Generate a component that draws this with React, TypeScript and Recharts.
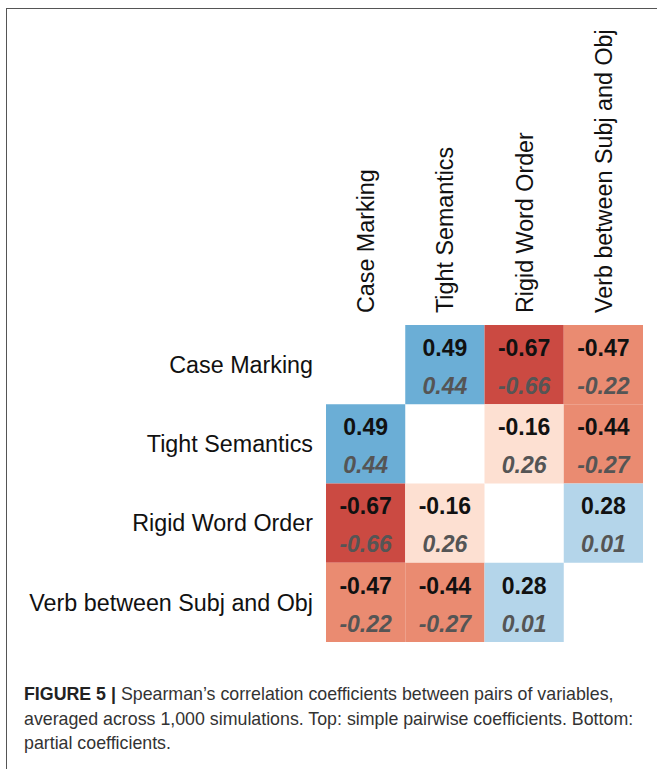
import { ScatterChart, Scatter, XAxis, YAxis } from 'recharts'

const variables = ['Case Marking', 'Tight Semantics', 'Rigid Word Order', 'Verb between Subj and Obj']

// upper line in each cell: simple pairwise coefficients
const simpleCoefs: (number | null)[][] = [
  [null, 0.49, -0.67, -0.47],
  [0.49, null, -0.16, -0.44],
  [-0.67, -0.16, null, 0.28],
  [-0.47, -0.44, 0.28, null],
]

// lower line in each cell: partial coefficients
const partialCoefs: (number | null)[][] = [
  [null, 0.44, -0.66, -0.22],
  [0.44, null, 0.26, -0.27],
  [-0.66, 0.26, null, 0.01],
  [-0.22, -0.27, 0.01, null],
]

const indexTicks = [0, 1, 2, 3]

const captionLines = [
  'Spearman’s correlation coefficients between pairs of variables,',
  'averaged across 1,000 simulations. Top: simple pairwise coefficients. Bottom:',
  'partial coefficients.',
]

const W = 657
const H = 769
const margin = { top: 25, right: 14, bottom: 127, left: 6 }
const Y_AXIS_W = 320
const X_AXIS_H = 300
const CELL = (W - margin.left - margin.right - Y_AXIS_W) / 4

const FONT = '"Liberation Sans", Arial, sans-serif'

const cellColor = (v: number) => {
  if (v <= -0.6) return '#cb4a42'
  if (v <= -0.3) return '#ea8b71'
  if (v < 0) return '#fde0d2'
  if (v < 0.4) return '#b4d5ea'
  return '#6baed6'
}

const cells = simpleCoefs.flatMap((row, r) =>
  row
    .map((v, c) => ({ x: c, y: r, simple: v, partial: partialCoefs[r][c] }))
    .filter(d => d.simple !== null)
)

const CellShape = (props: any) => {
  const { cx, cy, payload } = props
  return (
    <g>
      <rect
        x={cx - CELL / 2}
        y={cy - CELL / 2}
        width={CELL}
        height={CELL}
        fill={cellColor(payload.simple)}
      />
      <text
        x={cx}
        y={cy - 17}
        dy='0.36em'
        textAnchor='middle'
        fontFamily={FONT}
        fontWeight='bold'
        fontSize={23}
        fill='#111'>
        {payload.simple.toFixed(2)}
      </text>
      <text
        x={cx}
        y={cy + 21}
        dy='0.36em'
        textAnchor='middle'
        fontFamily={FONT}
        fontWeight='bold'
        fontStyle='italic'
        fontSize={23}
        fill='#555'>
        {payload.partial.toFixed(2)}
      </text>
    </g>
  )
}

const ColumnTick = (props: any) => {
  const { x, y, payload } = props
  return (
    <text
      x={x}
      y={y}
      dy='0.36em'
      transform={`rotate(-90, ${x}, ${y})`}
      textAnchor='start'
      fontFamily={FONT}
      fontSize={23.3}
      fill='#111'>
      {variables[payload.value]}
    </text>
  )
}

export default function App() {
  return (
    <div style={{ position: 'absolute', top: 0, left: 0, width: W, height: H, background: '#fff' }}>
      <div
        style={{
          position: 'absolute',
          left: 6,
          top: 8,
          right: 0,
          bottom: 0,
          borderTop: '1.5px solid #555',
          borderLeft: '1.5px solid #555',
        }}
      />
      <ScatterChart
        width={W}
        height={H}
        margin={margin}>
        <XAxis
          dataKey='x'
          type='number'
          orientation='top'
          domain={[-0.5, 3.5]}
          ticks={indexTicks}
          height={X_AXIS_H}
          axisLine={false}
          tickLine={false}
          tickSize={0}
          tickMargin={12}
          tick={<ColumnTick />}
          interval={0}
        />
        <YAxis
          dataKey='y'
          type='number'
          domain={[-0.5, 3.5]}
          reversed
          ticks={indexTicks}
          width={Y_AXIS_W}
          axisLine={false}
          tickLine={false}
          tickSize={0}
          tickMargin={13}
          interval={0}
          tickFormatter={(i: number) => variables[i]}
          tick={{ fontFamily: FONT, fontSize: 23.3, fill: '#111' }}
        />
        <Scatter
          data={cells}
          shape={<CellShape />}
          isAnimationActive={false}
        />
      </ScatterChart>
      <div
        style={{
          position: 'absolute',
          left: 24,
          top: 682,
          width: 640,
          fontFamily: FONT,
          fontSize: 17.8,
          lineHeight: '24.5px',
          color: '#333',
          whiteSpace: 'nowrap',
        }}>
        {captionLines.map((line, i) => (
          <div key={i}>
            {i === 0 && <b style={{ color: '#222', marginRight: 5 }}>FIGURE 5 |</b>}
            <span>{line}</span>
          </div>
        ))}
      </div>
    </div>
  )
}
